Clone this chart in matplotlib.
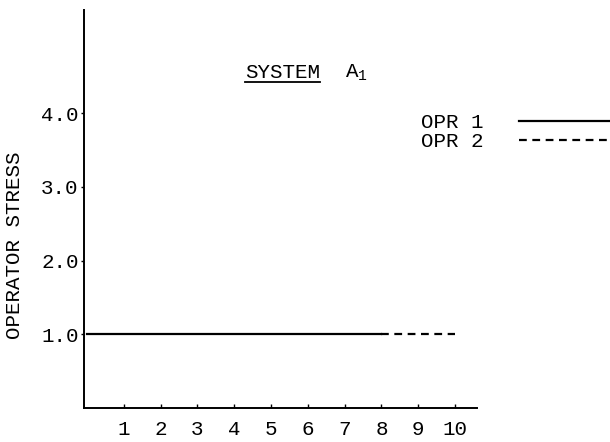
import matplotlib
matplotlib.use("Agg")
import matplotlib.pyplot as plt
from matplotlib.lines import Line2D

# data
opr1_x = [0, 1, 2, 3, 4, 5, 6, 7, 8]
opr1_y = [1.0, 1.0, 1.0, 1.0, 1.0, 1.0, 1.0, 1.0, 1.0]
opr2_x = [8, 9, 10]
opr2_y = [1.0, 1.0, 1.0]
x_ticks = [1, 2, 3, 4, 5, 6, 7, 8, 9, 10]
y_ticks = [1.0, 2.0, 3.0, 4.0]
y_tick_labels = ["1.0", "2.0", "3.0", "4.0"]

plt.rcParams['font.family'] = ['Liberation Mono', 'DejaVu Sans']
plt.rcParams['mathtext.fontset'] = 'custom'
plt.rcParams['mathtext.rm'] = 'Liberation Mono'
FS = 15

fig = plt.figure(figsize=(6.1, 4.42), dpi=100)
ax = fig.add_axes([0.138, 0.077, 0.644, 0.90])

ax.plot(opr1_x, opr1_y, color='black', linewidth=1.6, linestyle='-', label='OPR 1')
ax.plot(opr2_x, opr2_y, color='black', linewidth=1.6, linestyle=(0, (3.5, 2.5)), label='OPR 2')

ax.set_xlim(-0.08, 10.6)
ax.set_ylim(0, 5.4)
ax.set_xticks(x_ticks)
ax.set_xticklabels([str(t) for t in x_ticks], fontsize=FS)
ax.set_yticks(y_ticks)
ax.set_yticklabels(y_tick_labels, fontsize=FS)
ax.tick_params(axis='x', direction='in', length=3, pad=9, width=1)
ax.tick_params(axis='y', direction='out', length=2, pad=2, width=1)

for side in ['top', 'right']:
    ax.spines[side].set_visible(False)
for side in ['left', 'bottom']:
    ax.spines[side].set_linewidth(1.4)

fig.text(0.023, 1 - 245 / 442, 'OPERATOR STRESS', rotation=90, fontsize=FS,
         ha='center', va='center')

# title: underlined SYSTEM and A with subscript 1
t1 = fig.text(245 / 610, 1 - 73 / 442, 'SYSTEM', fontsize=FS, ha='left', va='center')
fig.text(345 / 610, 1 - 73 / 442, r'A$_\mathrm{1}$', fontsize=FS, ha='left', va='center')
fig.canvas.draw()
bb = t1.get_window_extent().transformed(fig.transFigure.inverted())
fig.add_artist(Line2D([bb.x0, bb.x1], [bb.y0 + 0.002, bb.y0 + 0.002],
                      transform=fig.transFigure, color='black', linewidth=1.3))

ax.legend(loc='upper left', bbox_to_anchor=(421 / 610, 1 - 113 / 442),
          bbox_transform=fig.transFigure, frameon=False, markerfirst=False,
          fontsize=FS, handlelength=5.0, handletextpad=1.7, labelspacing=0.0,
          borderpad=0, borderaxespad=0)

fig.savefig('out.png', dpi=100)
